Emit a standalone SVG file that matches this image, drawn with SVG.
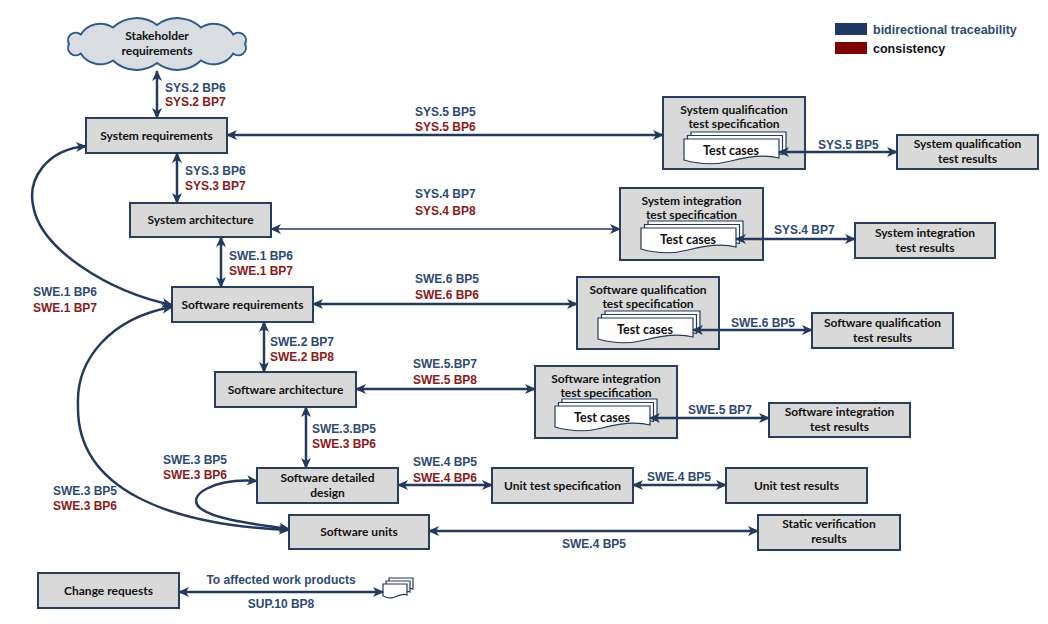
<svg xmlns="http://www.w3.org/2000/svg" xmlns:xlink="http://www.w3.org/1999/xlink" width="1048" height="624" viewBox="0 0 1048 624">
<style>
.box{fill:#D9D9D9;stroke:#2A3E5A;stroke-width:2}
.bt{font-family:Lato,"Open Sans",sans-serif;font-weight:bold;font-size:12px;fill:#111;text-anchor:middle}
.tc{font-size:12.5px}
.lb{font-family:"Liberation Sans",Arial,sans-serif;font-weight:bold;font-size:12px;fill:#2E4A72}
.lr{font-family:"Liberation Sans",Arial,sans-serif;font-weight:bold;font-size:12px;fill:#8B1A1A}
.c{fill:none;stroke:#23395D;stroke-width:2.5;marker-start:url(#ah);marker-end:url(#ah)}
.thin{stroke-width:1.4}
.doc{fill:#fff;stroke:#23395D;stroke-width:1.2}
.lg{font-family:"Liberation Sans",Arial,sans-serif;font-weight:bold;font-size:12.5px}
</style>
<defs>
<marker id="ah" markerUnits="userSpaceOnUse" markerWidth="11" markerHeight="10" viewBox="0 0 11 10" refX="10" refY="5" orient="auto-start-reverse">
<path d="M0,0 L11,5 L0,10 L3,5 Z" fill="#23395D"/>
</marker>
<path id="docp" class="doc" d="M0,0 H95 V19 C80,15 62,18 47,22 C32,26 14,25 0,21 Z"/>
<g id="stack">
<use href="#docp" x="7" y="-7"/>
<use href="#docp" x="3.5" y="-3.5"/>
<use href="#docp"/>
<text class="bt tc" x="47" y="15.5">Test cases</text>
</g>
<path id="smalldoc" class="doc" d="M0,0 H24 V11 C20,9 16,11 12,13 C8,15 4,14 0,12 Z"/>
</defs>

<!-- legend -->
<g id="legend">
<rect x="835" y="23" width="32" height="12" fill="#1F3864"/>
<rect x="835" y="42" width="32" height="12" fill="#7F0000"/>
<text class="lg" x="873" y="34" fill="#2E4A72">bidirectional traceability</text>
<text class="lg" x="873" y="53" fill="#111">consistency</text>
</g>

<!-- labels -->
<g id="labels">
<text class="lb" x="165" y="92">SYS.2 BP6</text>
<text class="lr" x="165" y="106">SYS.2 BP7</text>
<text class="lb" x="185" y="175">SYS.3 BP6</text>
<text class="lr" x="185" y="190">SYS.3 BP7</text>
<text class="lb" x="229" y="260">SWE.1 BP6</text>
<text class="lr" x="229" y="275">SWE.1 BP7</text>
<text class="lb" x="270" y="346">SWE.2 BP7</text>
<text class="lr" x="270" y="361">SWE.2 BP8</text>
<text class="lb" x="312" y="433">SWE.3.BP5</text>
<text class="lr" x="312" y="448">SWE.3 BP6</text>

<text class="lb" x="33" y="296">SWE.1 BP6</text>
<text class="lr" x="33" y="312">SWE.1 BP7</text>
<text class="lb" x="53" y="495">SWE.3 BP5</text>
<text class="lr" x="53" y="510">SWE.3 BP6</text>
<text class="lb" x="163" y="464">SWE.3 BP5</text>
<text class="lr" x="163" y="479">SWE.3 BP6</text>

<text class="lb" x="415" y="116">SYS.5 BP5</text>
<text class="lr" x="415" y="131">SYS.5 BP6</text>
<text class="lb" x="415" y="198">SYS.4 BP7</text>
<text class="lr" x="415" y="215">SYS.4 BP8</text>
<text class="lb" x="415" y="283">SWE.6 BP5</text>
<text class="lr" x="415" y="299">SWE.6 BP6</text>
<text class="lb" x="413" y="368">SWE.5.BP7</text>
<text class="lr" x="413" y="384">SWE.5 BP8</text>
<text class="lb" x="413" y="466">SWE.4 BP5</text>
<text class="lr" x="413" y="482">SWE.4 BP6</text>

<text class="lb" x="818" y="149">SYS.5 BP5</text>
<text class="lb" x="774" y="234">SYS.4 BP7</text>
<text class="lb" x="731" y="327">SWE.6 BP5</text>
<text class="lb" x="688" y="414">SWE.5 BP7</text>
<text class="lb" x="647" y="481">SWE.4 BP5</text>
<text class="lb" x="562" y="548">SWE.4 BP5</text>

<text class="lb" x="281" y="584" text-anchor="middle">To affected work products</text>
<text class="lb" x="281" y="608" text-anchor="middle">SUP.10 BP8</text>
</g>

<!-- nodes -->
<g id="stakeholder">
<path d="M245,44 A7.7,7.7 0 0 1 233.2,53.5 A23,23 0 0 1 201,60.5 A34,34 0 0 1 157,63 A34,34 0 0 1 113,60.5 A23,23 0 0 1 80.8,53.5 A7.7,7.7 0 0 1 69,44 A7.7,7.7 0 0 1 80.8,34.5 A23,23 0 0 1 113,27.5 A34,34 0 0 1 157,25 A34,34 0 0 1 201,27.5 A23,23 0 0 1 233.2,34.5 A7.7,7.7 0 0 1 245,44 Z" fill="#D9DCE1" stroke="#2F5A8C" stroke-width="2"/>
<text class="bt" x="157" y="40">Stakeholder</text>
<text class="bt" x="157" y="55">requirements</text>
</g>

<g id="sysreq"><rect class="box" x="86" y="118" width="141" height="35"/><text class="bt" x="156.5" y="140">System requirements</text></g>
<g id="sysarch"><rect class="box" x="130" y="203" width="141" height="34"/><text class="bt" x="200.5" y="224">System architecture</text></g>
<g id="swreq"><rect class="box" x="172" y="287" width="141" height="35"/><text class="bt" x="242.5" y="309">Software requirements</text></g>
<g id="swarch"><rect class="box" x="215" y="372" width="141" height="35"/><text class="bt" x="285.5" y="394">Software architecture</text></g>
<g id="swdd"><rect class="box" x="257" y="468" width="141" height="35"/><text class="bt" x="327.5" y="482">Software detailed</text><text class="bt" x="327.5" y="497">design</text></g>
<g id="swunits"><rect class="box" x="289" y="515" width="140" height="34"/><text class="bt" x="359" y="536">Software units</text></g>
<g id="unitspec"><rect class="box" x="492" y="468" width="141" height="35"/><text class="bt" x="562.5" y="490">Unit test specification</text></g>
<g id="unitres"><rect class="box" x="726" y="468" width="141" height="35"/><text class="bt" x="796.5" y="490">Unit test results</text></g>
<g id="staticres"><rect class="box" x="758" y="515" width="142" height="35"/><text class="bt" x="829" y="528">Static verification</text><text class="bt" x="829" y="543">results</text></g>
<g id="changereq"><rect class="box" x="38" y="573" width="141" height="35"/><text class="bt" x="108.5" y="595">Change requests</text></g>
<g id="docicon"><use href="#smalldoc" x="389" y="578"/><use href="#smalldoc" x="386" y="581"/><use href="#smalldoc" x="383" y="584"/></g>

<g id="sysqualspec"><rect class="box" x="663" y="97" width="142" height="72"/><text class="bt" x="734" y="114">System qualification</text><text class="bt" x="734" y="128">test specification</text><use href="#stack" x="684" y="139"/></g>
<g id="sysintspec"><rect class="box" x="620" y="188" width="143" height="72"/><text class="bt" x="691.5" y="205">System integration</text><text class="bt" x="691.5" y="219">test specification</text><use href="#stack" x="641" y="228"/></g>
<g id="swqualspec"><rect class="box" x="577" y="277" width="142" height="72"/><text class="bt" x="648" y="294">Software qualification</text><text class="bt" x="648" y="308">test specification</text><use href="#stack" x="598" y="318"/></g>
<g id="swintspec"><rect class="box" x="535" y="366" width="142" height="72"/><text class="bt" x="606" y="383">Software integration</text><text class="bt" x="606" y="397">test specification</text><use href="#stack" x="555" y="406"/></g>

<g id="sysqualres"><rect class="box" x="897" y="135" width="141" height="34"/><text class="bt" x="967.5" y="148">System qualification</text><text class="bt" x="967.5" y="163">test results</text></g>
<g id="sysintres"><rect class="box" x="855" y="223" width="140" height="35"/><text class="bt" x="925" y="237">System integration</text><text class="bt" x="925" y="252">test results</text></g>
<g id="swqualres"><rect class="box" x="812" y="313" width="141" height="35"/><text class="bt" x="882.5" y="327">Software qualification</text><text class="bt" x="882.5" y="342">test results</text></g>
<g id="swintres"><rect class="box" x="769" y="403" width="141" height="34"/><text class="bt" x="839.5" y="416">Software integration</text><text class="bt" x="839.5" y="431">test results</text></g>

<!-- connectors -->
<g id="connectors">
<line class="c" x1="157" y1="71" x2="157" y2="118"/>
<line class="c" x1="177" y1="153" x2="177" y2="203"/>
<line class="c" x1="221" y1="237" x2="221" y2="287"/>
<line class="c" x1="264" y1="322" x2="264" y2="372"/>
<line class="c" x1="306" y1="407" x2="306" y2="468"/>

<line class="c" x1="227" y1="135" x2="663" y2="135"/>
<line class="c thin" x1="271" y1="229" x2="620" y2="229"/>
<line class="c" x1="313" y1="304" x2="577" y2="304"/>
<line class="c" x1="356" y1="389" x2="535" y2="389"/>
<line class="c" x1="398" y1="485" x2="492" y2="485"/>
<line class="c" x1="633" y1="485" x2="726" y2="485"/>
<line class="c" x1="429" y1="531" x2="758" y2="531"/>

<line class="c" x1="779" y1="152" x2="897" y2="152"/>
<line class="c" x1="736" y1="239" x2="855" y2="239"/>
<line class="c" x1="693" y1="330" x2="812" y2="330"/>
<line class="c" x1="650" y1="418" x2="769" y2="418"/>

<line class="c" x1="179" y1="592" x2="383" y2="592"/>

<path class="c" d="M86,146 C45,150 28,180 33,205 C40,250 110,292 172,305"/>
<path class="c" d="M172,307 C110,318 76,360 78,405 C76,490 170,525 289,530"/>
<path class="c" d="M257,481 C215,478 185,495 200,508 C215,520 255,524 289,529"/>
</g>
</svg>
